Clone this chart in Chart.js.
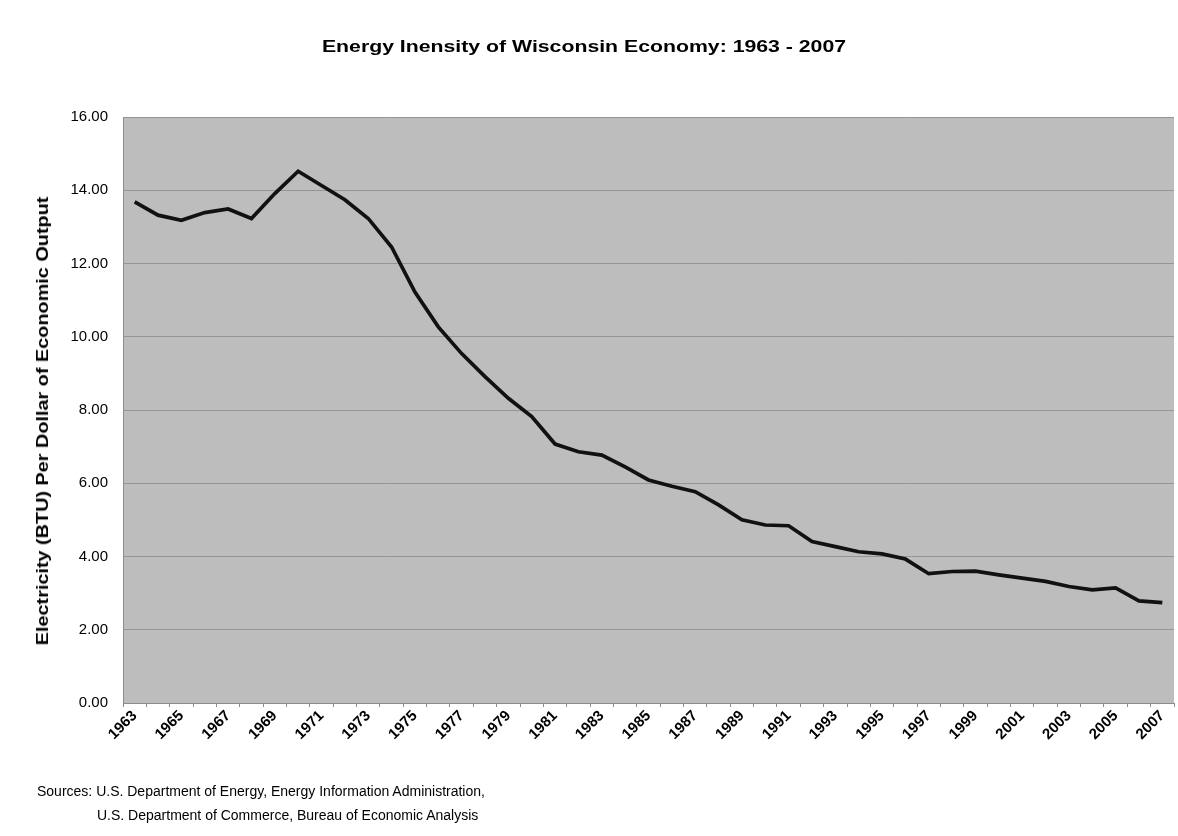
<!DOCTYPE html>
<html lang="en">
<head>
  <meta charset="UTF-8">
  <title>Energy Inensity of Wisconsin Economy</title>
  <script src="https://cdn.jsdelivr.net/npm/chart.js@4"></script>
  <style>
    body { margin: 0; background: #fff; font-family: "Liberation Sans", Arial, sans-serif; }
    .pai { position: relative; width: 1178px; height: 836px; }
    .pai canvas { position: absolute; left: 0; top: 0; }
    .titulo {
      position: absolute; left: 584px; top: 47px;
      font-weight: bold; font-size: 17px; white-space: nowrap;
      transform: translate(-50%, -50%) scaleX(1.25);
    }
    .titulo-y {
      position: absolute; left: 43px; top: 421px;
      font-weight: bold; font-size: 16px; white-space: nowrap;
      transform: translate(-50%, -50%) rotate(-90deg) scaleX(1.24);
    }
    .fontes {
      position: absolute; left: 37px; top: 779px;
      font-size: 14px; line-height: 24px; white-space: nowrap;
    }
    .fontes span { display: block; padding-left: 60px; }
  </style>
</head>
<body>
  <div class="pai">
    <canvas id="grafico" width="1178" height="836"></canvas>
    <div class="titulo">Energy Inensity of Wisconsin Economy: 1963 - 2007</div>
    <div class="titulo-y">Electricity (BTU) Per Dollar of Economic Output</div>
    <div class="fontes">Sources: U.S. Department of Energy, Energy Information Administration,
      <span>U.S. Department of Commerce, Bureau of Economic Analysis</span></div>
  </div>

<script>
  // anos 1963..2007
  const anos = [
    "1963", "1964", "1965", "1966", "1967", "1968", "1969", "1970", "1971",
    "1972", "1973", "1974", "1975", "1976", "1977", "1978", "1979", "1980",
    "1981", "1982", "1983", "1984", "1985", "1986", "1987", "1988", "1989",
    "1990", "1991", "1992", "1993", "1994", "1995", "1996", "1997", "1998",
    "1999", "2000", "2001", "2002", "2003", "2004", "2005", "2006", "2007"
  ];

  // BTU por dolar de produto
  const intensidade = [
    13.68, 13.32, 13.18, 13.39, 13.49, 13.23, 13.91, 14.52, 14.13,
    13.74, 13.23, 12.45, 11.22, 10.27, 9.54, 8.91, 8.32, 7.82,
    7.07, 6.86, 6.77, 6.45, 6.09, 5.92, 5.77, 5.41, 5.00,
    4.86, 4.84, 4.41, 4.27, 4.13, 4.07, 3.93, 3.53, 3.59,
    3.60, 3.50, 3.41, 3.32, 3.18, 3.09, 3.14, 2.79, 2.74
  ];

  // só os anos ímpares aparecem no eixo
  const rotulosX = [
    "1963", "1965", "1967", "1969", "1971", "1973", "1975", "1977",
    "1979", "1981", "1983", "1985", "1987", "1989", "1991", "1993",
    "1995", "1997", "1999", "2001", "2003", "2005", "2007"
  ];

  const ticksY = [0, 2, 4, 6, 8, 10, 12, 14, 16];

  // fundo cinza da área do gráfico
  const fundoCinza = {
    id: "fundoCinza",
    beforeDraw(chart) {
      const { ctx, chartArea: a } = chart;
      ctx.save();
      ctx.fillStyle = "#bdbdbd";
      ctx.fillRect(a.left, a.top, a.right - a.left, a.bottom - a.top);
      ctx.restore();
    }
  };

  const config = {
    type: "line",
    data: {
      labels: anos,
      datasets: [{
        label: "Intensidade",
        data: intensidade,
        borderColor: "#111111",
        borderWidth: 3.7,
        pointRadius: 0,
        tension: 0,
        fill: false
      }]
    },
    options: {
      responsive: false,
      animation: false,
      layout: { padding: { top: 117, left: 0, right: 4, bottom: 0 } },
      plugins: {
        legend: { display: false },
        title: { display: false },
        tooltip: { enabled: false }
      },
      scales: {
        x: {
          type: "category",
          offset: true,
          grid: {
            offset: true,
            drawOnChartArea: false,
            drawTicks: true,
            tickLength: 4,
            color: "#8c8c8c"
          },
          border: { color: "#8c8c8c", width: 1 },
          ticks: {
            autoSkip: false,
            minRotation: 45,
            maxRotation: 45,
            padding: 0,
            color: "#000",
            font: { family: "'Liberation Sans', Arial", size: 15, weight: "bold" },
            callback: function (valor) {
              const ano = this.getLabelForValue(valor);
              return rotulosX.includes(ano) ? ano : "";
            }
          },
          afterFit(scale) { scale.height = 133; }
        },
        y: {
          min: 0,
          max: 16,
          grid: { color: "#959595", lineWidth: 1, drawTicks: false },
          border: { color: "#8c8c8c", width: 1 },
          afterBuildTicks(scale) {
            scale.ticks = ticksY.map(v => ({ value: v }));
          },
          ticks: {
            padding: 15,
            color: "#000",
            font: { family: "'Liberation Sans', Arial", size: 15 },
            callback: v => v.toFixed(2)
          },
          afterFit(scale) { scale.width = 123; }
        }
      }
    },
    plugins: [fundoCinza]
  };

  const myChart = new Chart(document.getElementById("grafico"), config);
</script>
</body>
</html>
